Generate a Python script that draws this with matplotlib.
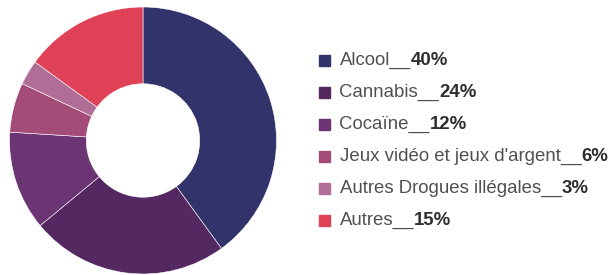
import matplotlib.pyplot as plt
from matplotlib.patches import Rectangle

plt.rcParams['font.family'] = ['Liberation Sans', 'DejaVu Sans']

labels = ["Alcool", "Cannabis", "Cocaïne", "Jeux vidéo et jeux d'argent",
          "Autres Drogues illégales", "Autres"]
values = [40, 24, 12, 6, 3, 15]
colors = ["#33336b", "#542861", "#6b3573", "#a34c78", "#b06e97", "#df4256"]

fig = plt.figure(figsize=(6.14, 2.75), dpi=100)

# donut
ax = fig.add_axes([9.5 / 614, 1 / 275, 267 / 614, 267 / 275])
ax.pie(values, colors=colors, startangle=90, counterclock=False,
       wedgeprops=dict(width=0.575, edgecolor="white", linewidth=0.4))
ax.set_xlim(-1, 1)
ax.set_ylim(-1, 1)
ax.set_aspect("equal")
ax.axis("off")

# legend drawn in pixel coords
lg = fig.add_axes([0, 0, 1, 1])
lg.set_xlim(0, 614)
lg.set_ylim(275, 0)
lg.axis("off")

y0 = 65
dy = 32
for i, (lab, v, c) in enumerate(zip(labels, values, colors)):
    y = y0 + i * dy
    lg.add_patch(Rectangle((319, y - 10), 11, 11, color=c))
    t = lg.text(339.5, y, lab + "__", fontsize=13.4, color="#505050",
                va="baseline", ha="left")
    lg.annotate(f"{v}%", xy=(1, 0), xycoords=t, fontsize=13.4,
                fontweight="bold", color="#2e2e2e", va="bottom", ha="left")

fig.savefig("out.png", dpi=100)
